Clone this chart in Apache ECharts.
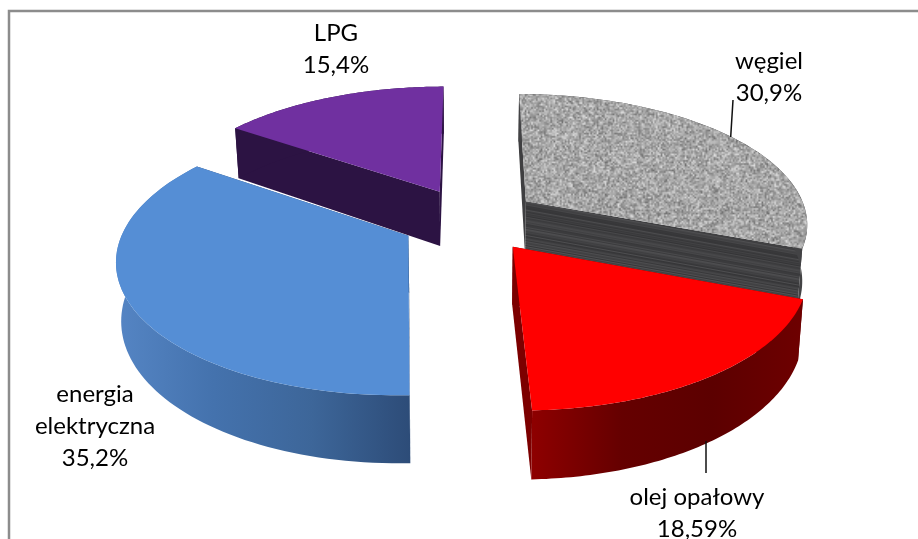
<!DOCTYPE html>
<html>
<head>
<meta charset="utf-8">
<style>html,body{margin:0;padding:0;background:#fff}#chart{width:918px;height:539px}</style>
<script src="https://cdn.jsdelivr.net/npm/echarts@6/dist/echarts.min.js"></script>
</head>
<body>
<div id="chart"></div>
<script>
// Heating fuel shares, drawn as an exploded pie with a projected 3D look.
const categories = ['węgiel', 'olej opałowy', 'energia elektryczna', 'LPG'];
const shares = [30.9, 18.59, 35.2, 15.4];
const labelLines = [['węgiel'], ['olej opałowy'], ['energia', 'elektryczna'], ['LPG']];

// Projection of the pie plane onto the screen
const view = { cx: 467.7, cy: 218, rx: 282, ry: 129, persp: 0.16, depth: 56, taper: 0.015, explode: 0.22 };
// Per-slice fine offset of the exploded position, [dx, dy] in px
const sliceShift = [[8, -1], [8, 5], [-4, 4], [0, -2]];
// Painting order, back to front
const paintOrder = [3, 0, 2, 1];
const labelBoxes = [[769, 77], [697, 513], [95, 426], [336, 49]];
const leaders = [[[733, 100], [730.7, 137]], [[706, 441], [706, 473]], null, null];

function noiseTexture(size, cell, lo, hi, seed) {
  // Deterministic speckle used as the granite surface of the coal slice
  let s = seed;
  const next = () => (s = (s * 1664525 + 1013904223) >>> 0) / 4294967296;
  const small = document.createElement('canvas');
  small.width = small.height = Math.round(size / cell);
  const sc = small.getContext('2d');
  const img = sc.createImageData(small.width, small.height);
  for (let i = 0; i < img.data.length; i += 4) {
    const r = next();
    const g = lo + (hi - lo) * (0.5 * r + 0.5 * next());
    img.data[i] = img.data[i + 1] = img.data[i + 2] = g;
    img.data[i + 3] = 255;
  }
  sc.putImageData(img, 0, 0);
  const big = document.createElement('canvas');
  big.width = big.height = size;
  const bc = big.getContext('2d');
  bc.imageSmoothingEnabled = true;
  bc.drawImage(small, 0, 0, size, size);
  return big;
}

function streakTexture(w, h, seed) {
  // Horizontal dark streaks for the side wall of the coal slice
  let s = seed;
  const next = () => (s = (s * 1664525 + 1013904223) >>> 0) / 4294967296;
  const c = document.createElement('canvas');
  c.width = w; c.height = h;
  const x = c.getContext('2d');
  for (let y = 0; y < h; y++) {
    const g = Math.round(52 + 30 * next());
    x.fillStyle = `rgb(${g},${g},${g + 2})`;
    x.fillRect(0, y, w, 1);
  }
  return c;
}

const horizGrad = stops => ({
  type: 'linear', x: 0, y: 0, x2: 1, y2: 0,
  colorStops: stops.map((c, i) => ({ offset: i / (stops.length - 1), color: c }))
});

const sliceStyles = [
  { top: { image: noiseTexture(256, 1.6, 105, 228, 17), repeat: 'repeat' },
    arc: '#434345', start: '#3f3f41',
    end: { image: streakTexture(64, 64, 5), repeat: 'repeat', rotation: 0.18 } },
  { top: '#ff0000', arc: horizGrad(['#8e0000', '#650000', '#5c0000', '#6e0000']), start: '#6a0000', end: '#7c0000' },
  { top: '#558ed5', arc: horizGrad(['#5585c4', '#4472ad', '#3d6699', '#2d4c78']), start: '#2d4c78', end: '#2d4c78' },
  { top: '#7030a0', arc: '#2c1343', start: '#2c1343', end: '#2c1343' }
];

const total = shares.reduce((a, b) => a + b, 0);
const toAngle = v => echarts.number.linearMap(v, [0, total], [0, Math.PI * 2]);
const spans = [];
shares.reduce((acc, v) => { spans.push([toAngle(acc), toAngle(acc + v)]); return acc + v; }, 0);

function project(X, Y, z, shift) {
  const w = 1 + view.persp * Y;
  const k = 1 - view.taper * z;
  return [
    view.cx + shift[0] + view.rx * X / w * k,
    view.cy + shift[1] - view.ry * Y / w + z * view.depth / w
  ];
}

function slicePaths(i) {
  const [a0, a1] = spans[i];
  const mid = (a0 + a1) / 2;
  const ox = view.explode * Math.sin(mid), oy = view.explode * Math.cos(mid);
  const shift = sliceShift[i];
  const rim = z => {
    const pts = [];
    const steps = 80;
    for (let n = 0; n <= steps; n++) {
      const a = a0 + (a1 - a0) * n / steps;
      pts.push(project(ox + Math.sin(a), oy + Math.cos(a), z, shift));
    }
    return pts;
  };
  const rimTop = rim(0), rimBottom = rim(1);
  const apexTop = project(ox, oy, 0, shift), apexBottom = project(ox, oy, 1, shift);
  return {
    top: [apexTop].concat(rimTop),
    arc: rimTop.concat(rimBottom.slice().reverse()),
    start: [apexTop, rimTop[0], rimBottom[0], apexBottom],
    end: [apexTop, rimTop[rimTop.length - 1], rimBottom[rimBottom.length - 1], apexBottom]
  };
}

const poly = (points, fill, z2) => ({
  type: 'polygon', z2, shape: { points },
  style: { fill, stroke: null }, silent: true
});

const chart = echarts.init(document.getElementById('chart'), null, { renderer: 'canvas' });

chart.setOption({
  animation: false,
  backgroundColor: '#ffffff',
  graphic: [
    { type: 'rect', shape: { x: 9, y: 11, width: 930, height: 560 },
      style: { fill: 'none', stroke: '#8c8c8c', lineWidth: 2.5 }, silent: true }
  ],
  series: [{
    type: 'custom',
    coordinateSystem: 'none',
    silent: true,
    data: shares.map((v, i) => ({ name: categories[i], value: v })),
    renderItem(params) {
      const i = params.dataIndex;
      const order = paintOrder.indexOf(i) * 10;
      const p = slicePaths(i);
      const st = sliceStyles[i];
      const text = labelLines[i].concat(String(shares[i]).replace('.', ',') + '%').join('\n');
      const children = [
        poly(p.start, st.start, order + 1),
        poly(p.end, st.end, order + 1),
        poly(p.arc, st.arc, order + 2),
        poly(p.top, st.top, order + 3),
        {
          type: 'text', z2: 100, silent: true,
          style: {
            x: labelBoxes[i][0], y: labelBoxes[i][1], text,
            align: 'center', verticalAlign: 'middle',
            font: '24px Lato', lineHeight: 32, fill: '#000'
          }
        }
      ];
      const seg = leaders[i];
      if (seg) {
        children.push({
          type: 'line', z2: 90, silent: true,
          shape: { x1: seg[0][0], y1: seg[0][1], x2: seg[1][0], y2: seg[1][1] },
          style: { stroke: '#111', lineWidth: 1.5 }
        });
      }
      return { type: 'group', children };
    }
  }]
});
</script>
</body>
</html>
